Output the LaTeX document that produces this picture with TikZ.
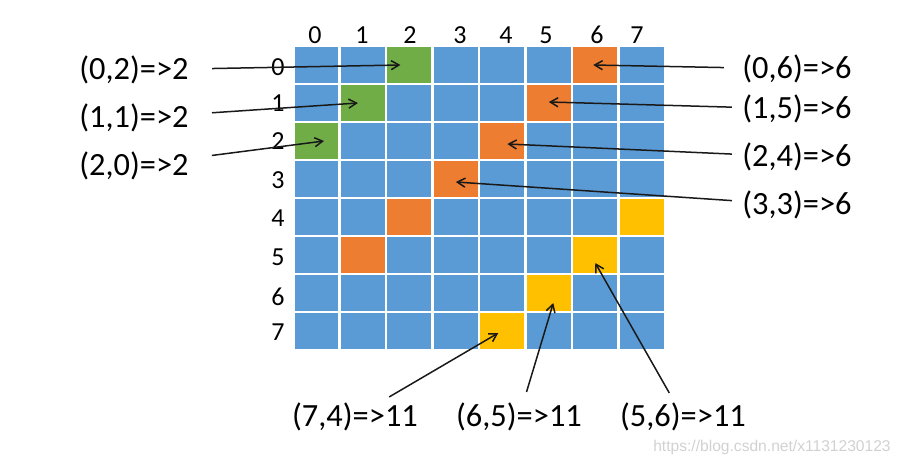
\documentclass[tikz,border=0pt]{standalone}
\usepackage{fontspec}
\setmainfont{Carlito}
\newfontfamily\wmfont{Liberation Sans}
\usetikzlibrary{calc}
\usetikzlibrary{arrows.meta}
\definecolor{cblue}{HTML}{5B9BD5}
\definecolor{cgreen}{HTML}{70AD47}
\definecolor{corange}{HTML}{ED7D31}
\definecolor{cyellow}{HTML}{FFC000}
\tikzset{
	cell/.style={
		draw=white,
		line width=1.25pt,
		minimum width=23.23pt,
		minimum height=19pt,
		inner sep=0pt,
	},
	idx/.style={
		font=\fontsize{13}{15}\selectfont,
		inner sep=0pt,
	},
	pair/.style={
		font=\fontsize{16.2}{19}\selectfont,
		inner sep=0pt,
	},
	arr/.style={
		line width=0.75pt,
		black!90,
		-{Straight Barb[angle=60:4.5pt 0]}
	},
}

\begin{document}
\begin{tikzpicture}[x=0.5pt,y=-0.5pt]
		\useasboundingbox (0,0) rectangle (902,466);

		% the 8x8 board, diagonals coloured by i+j
		\foreach \i in {0,...,7}
			\foreach \j in {0,...,7} {
				\pgfmathtruncatemacro{\s}{\i+\j}
				\def\cellcol{cblue}
				\ifnum\s=2 \def\cellcol{cgreen}\fi
				\ifnum\s=6 \ifnum\i<6 \def\cellcol{corange}\fi\fi
				\ifnum\s=11 \def\cellcol{cyellow}\fi
				\node[cell,fill=\cellcol] (c\i\j) at ({316.5+46.46*\j},{65+38*\i}) {};
			}

		\foreach \j/\x in {0/315,1/362,2/410,3/460,4/506,5/546,6/597,7/637}
			\node[idx] (k\j) at (\x,35) {\j};
		\foreach \i/\y in {0/67,1/103,2/141,3/180,4/218,5/257,6/297,7/332}
			\node[idx] (r\i) at (278,\y) {\i};

		\node[pair] (l02) at (134,70) {(0,2)=>2};
		\node[pair] (l11) at (134,118) {(1,1)=>2};
		\node[pair] (l20) at (134,165.5) {(2,0)=>2};
		\node[pair] (l06) at (797,69) {(0,6)=>6};
		\node[pair] (l15) at (797,109) {(1,5)=>6};
		\node[pair] (l24) at (797,157) {(2,4)=>6};
		\node[pair] (l33) at (797,205) {(3,3)=>6};
		\node[pair] (l74) at (355,417) {(7,4)=>11};
		\node[pair] (l65) at (519,417) {(6,5)=>11};
		\node[pair] (l56) at (683,417) {(5,6)=>11};

		\draw[arr,shorten <=11.5pt] (l02) -- ($(c02)+(-9,0)$);
		\draw[arr,shorten <=11.5pt] (l11) -- ($(c11)+(-5,0)$);
		\draw[arr,shorten <=11.5pt] (l20) -- ($(c20)+(7.5,0)$);
		\draw[arr,shorten <=9pt] (l06) -- ($(c06)+(-2,0)$);
		\draw[arr,shorten <=5pt] (l15) -- ($(c15)+(0,-1)$);
		\draw[arr,shorten <=5pt] (l24) -- ($(c24)+(5,3)$);
		\draw[arr,shorten <=5pt] (l33) -- ($(c33)+(0,3)$);
		\draw[arr,shorten <=5.5pt] (l74) -- ($(c74)+(-4,2)$);
		\draw[arr,shorten <=5.5pt] (l65) -- ($(c65)+(4.5,10)$);
		\draw[arr,shorten <=5.5pt] (l56) -- ($(c56)+(0,8)$);

		\node[font=\wmfont\fontsize{7.8}{9}\selectfont,text=black!18,inner sep=0pt] (wm) at (772,447) {https://blog.csdn.net/x1131230123};

	\end{tikzpicture}
\end{document}
